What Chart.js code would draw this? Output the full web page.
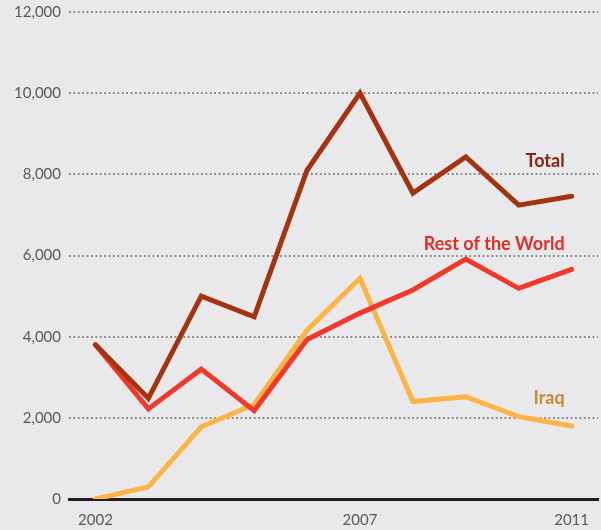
<!DOCTYPE html>
<html>
<head>
<meta charset="utf-8">
<script src="https://cdn.jsdelivr.net/npm/chart.js@4"></script>
<style>
  body { margin: 0; background: #e9e9eb; }
  .wrap { width: 601px; height: 530px; position: relative; }
</style>
</head>
<body>
<div class="wrap"><canvas id="chart"></canvas></div>
<script>
const years = ['2002', '2003', '2004', '2005', '2006', '2007', '2008', '2009', '2010', '2011'];
const shownYears = ['2002', '2007', '2011'];
const total = [3800, 2480, 5000, 4490, 8100, 10000, 7540, 8430, 7240, 7460];
const restOfWorld = [3800, 2220, 3200, 2175, 3930, 4580, 5150, 5910, 5190, 5660];
const iraq = [0, 300, 1780, 2330, 4160, 5440, 2400, 2520, 2030, 1800];
const yTicks = [0, 2000, 4000, 6000, 8000, 10000, 12000];

// series names written next to the lines (x = category index, y = value)
const seriesLabels = [
    { text: 'Total', x: 9, y: 8330, color: '#8c2418' },
    { text: 'Rest of the World', x: 9, y: 6280, color: '#de3029' },
    { text: 'Iraq', x: 9, y: 2490, color: '#c98a34' }
];

const lineLabels = {
    id: 'lineLabels',
    afterDatasetsDraw(chart) {
        const ctx = chart.ctx;
        const xs = chart.scales.x;
        const ys = chart.scales.y;
        ctx.save();
        ctx.font = 'bold 18px Lato';
        ctx.textAlign = 'right';
        ctx.textBaseline = 'middle';
        seriesLabels.forEach((l) => {
            ctx.fillStyle = l.color;
            ctx.fillText(l.text, xs.getPixelForValue(l.x) - 7, ys.getPixelForValue(l.y));
        });
        ctx.restore();
    }
};

const ctx = document.getElementById('chart').getContext('2d');
new Chart(ctx, {
    type: 'line',
    data: {
        labels: years,
        datasets: [
            { label: 'Total', data: total, borderColor: '#a3340f' },
            { label: 'Rest of the World', data: restOfWorld, borderColor: '#f0392a' },
            { label: 'Iraq', data: iraq, borderColor: '#fbb445' }
        ]
    },
    options: {
        responsive: true,
        maintainAspectRatio: false,
        animation: false,
        elements: {
            line: { borderWidth: 5, tension: 0, borderCapStyle: 'round', borderJoinStyle: 'miter' },
            point: { radius: 0 }
        },
        layout: { padding: 0 },
        scales: {
            x: {
                offset: true,
                afterFit: (s) => { s.height = 31; },
                grid: { display: false, drawTicks: false },
                border: { color: '#231f20', width: 3 },
                ticks: {
                    autoSkip: false,
                    maxRotation: 0,
                    color: '#58595b',
                    font: { family: 'Lato', size: 15 },
                    padding: 12,
                    callback: function (v) {
                        const y = this.getLabelForValue(v);
                        return shownYears.includes(y) ? y : '';
                    }
                }
            },
            y: {
                min: 0,
                max: 12000,
                afterBuildTicks: (s) => { s.ticks = yTicks.map((v) => ({ value: v })); },
                afterFit: (s) => { s.width = 69; s.paddingTop = 12; s.paddingBottom = 0; },
                grid: {
                    color: (c) => c.tick.value === 0 ? 'rgba(0,0,0,0)' : '#87878a',
                    lineWidth: 2,
                    drawTicks: false
                },
                border: { display: false, dash: [1.8, 2.6] },
                ticks: {
                    color: '#58595b',
                    font: { family: 'Lato', size: 15 },
                    padding: 8,
                    callback: (v) => v.toLocaleString('en-US')
                }
            }
        },
        plugins: {
            legend: { display: false },
            tooltip: { enabled: false }
        }
    },
    plugins: [lineLabels]
});
</script>
</body>
</html>
